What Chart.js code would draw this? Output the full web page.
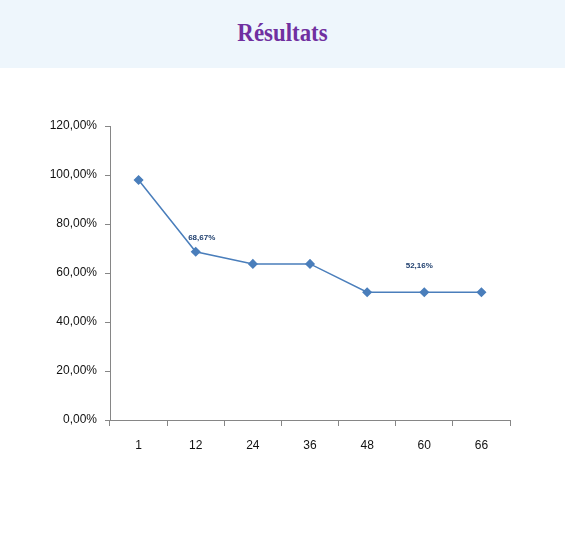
<!DOCTYPE html>
<html>
<head>
<meta charset="utf-8">
<script src="https://cdn.jsdelivr.net/npm/chart.js@4"></script>
<style>
    body { margin: 0; background: #fff; }
    #header {
        position: absolute; left: 0; top: 0; width: 565px; height: 68px;
        background: #eef6fc;
    }
    #header h1 {
        margin: 0; position: absolute; left: 0; width: 565px; top: 18px;
        text-align: center; font-family: "Liberation Serif", "DejaVu Serif", serif;
        font-weight: bold; font-size: 26px; color: #7030a0;
        transform: scaleX(0.88);
    }
    #wrap { position: absolute; left: 0; top: 0; width: 565px; height: 546px; }
</style>
</head>
<body>
<div id="header"><h1>Résultats</h1></div>
<div id="wrap"><canvas id="resultsChart" width="565" height="546"></canvas></div>
<script>
    // data
    const months = ['1', '12', '24', '36', '48', '60', '66'];
    const rates = [97.96, 68.67, 63.7, 63.7, 52.16, 52.16, 52.16];
    const labelledPoints = [1, 5];
    const yTicks = [0, 20, 40, 60, 80, 100, 120];

    const fmt = v => v.toFixed(2).replace('.', ',') + '%';

    // little value labels above chosen points
    const pointLabels = {
        id: 'pointLabels',
        afterDatasetsDraw(chart) {
            const meta = chart.getDatasetMeta(0);
            const ctx = chart.ctx;
            const lift = { 1: 14, 5: 26 };
            const shift = { 1: 6, 5: -5 };
            ctx.save();
            ctx.font = 'bold 8px "Liberation Sans", sans-serif';
            ctx.fillStyle = '#1f3f6e';
            ctx.textAlign = 'center';
            ctx.textBaseline = 'middle';
            labelledPoints.forEach(i => {
                const p = meta.data[i];
                ctx.fillText(fmt(rates[i]), p.x + shift[i], p.y - lift[i]);
            });
            ctx.restore();
        }
    };

    const ctx = document.getElementById('resultsChart').getContext('2d');
    new Chart(ctx, {
        type: 'line',
        data: {
            labels: months,
            datasets: [{
                data: rates,
                borderColor: '#4a7ebb',
                backgroundColor: '#4a7ebb',
                borderWidth: 1.5,
                pointStyle: 'rectRot',
                pointRadius: 4,
                pointHoverRadius: 4,
                tension: 0
            }]
        },
        options: {
            responsive: false,
            animation: false,
            layout: { padding: { left: 0, top: 126, right: 55, bottom: 86 } },
            plugins: {
                legend: { display: false },
                tooltip: { enabled: false }
            },
            scales: {
                x: {
                    offset: true,
                    afterFit: s => { s.height = 40; },
                    border: { color: '#868686', width: 1 },
                    grid: { offset: true, drawOnChartArea: false, tickLength: 6, color: '#868686' },
                    ticks: { color: '#111', padding: 12, font: { family: '"Liberation Sans", sans-serif', size: 12 } }
                },
                y: {
                    min: 0,
                    max: 120,
                    afterFit: s => { s.width = 110; },
                    afterBuildTicks: s => { s.ticks = yTicks.map(v => ({ value: v })); },
                    border: { color: '#868686', width: 1 },
                    grid: { drawOnChartArea: false, tickLength: 5, color: '#868686' },
                    ticks: {
                        color: '#111',
                        padding: 8,
                        callback: v => fmt(v),
                        font: { family: '"Liberation Sans", sans-serif', size: 12 }
                    }
                }
            }
        },
        plugins: [pointLabels]
    });
</script>
</body>
</html>
